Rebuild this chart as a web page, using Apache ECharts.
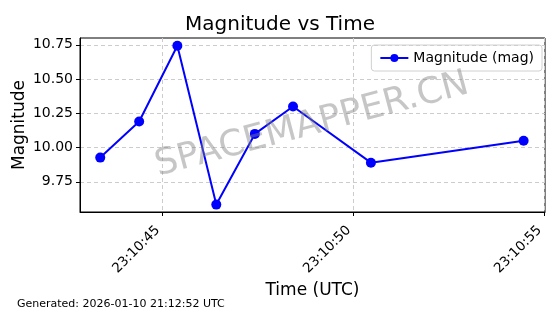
<!DOCTYPE html>
<html><head><meta charset="utf-8">
<script src="https://cdn.jsdelivr.net/npm/echarts@6/dist/echarts.min.js"></script>
<style>html,body{margin:0;padding:0;background:#fff}#c{width:560px;height:314px}</style>
</head><body><div id="c"></div>
<script>
// seconds after 23:10:00 UTC
var timeSec = [43.38, 44.40, 45.40, 46.42, 47.43, 48.43, 50.47, 54.47];
var magnitude = [9.927, 10.19, 10.743, 9.584, 10.10, 10.30, 9.89, 10.05];
var xTicks = [45, 50, 55];
var yTicks = [9.75, 10.00, 10.25, 10.50, 10.75];

var F = 'DejaVu Sans';
function fmtTime(v){ return '23:10:' + String(Math.round(v)).padStart(2,'0'); }
var chart = echarts.init(document.getElementById('c'));
chart.setOption({
  animation: false,
  textStyle: {fontFamily: F},
  title: {text: 'Magnitude vs Time', left: 'center', top: 10,
    textStyle: {fontFamily: F, fontSize: 20, fontWeight: 'normal', color: '#000'}},
  grid: {left: 80, right: 15, top: 38, bottom: 102, show: true, borderColor: '#000', borderWidth: 1,
    containLabel: false, outerBoundsMode: 'none'},
  legend: {right: 18, top: 45, padding: [6, 8], borderColor: '#d0d0d0', borderWidth: 1, borderRadius: 3,
    itemWidth: 28, itemHeight: 10, itemGap: 8,
    textStyle: {fontFamily: F, fontSize: 14, color: '#000'}, data: ['Magnitude (mag)']},
  xAxis: {type: 'value', min: 42.85, max: 55.03,
    name: 'Time (UTC)', nameLocation: 'middle', nameGap: 70, nameMoveOverlap: false,
    nameTextStyle: {fontFamily: F, fontSize: 17, color: '#000'},
    axisLine: {lineStyle: {color: '#000'}},
    axisTick: {show: true, length: 4, customValues: xTicks, lineStyle: {color: '#000'}},
    axisLabel: {customValues: xTicks, rotate: 45, formatter: fmtTime, fontFamily: F, fontSize: 13.5, color: '#000',
      margin: 12, padding: [0, 6, 0, 0]},
    splitLine: {show: true, lineStyle: {color: '#cccccc', type: [4, 3]}}},
  yAxis: {type: 'value', min: 9.53, max: 10.80,
    name: 'Magnitude', nameLocation: 'middle', nameGap: 52, nameMoveOverlap: false,
    nameTextStyle: {fontFamily: F, fontSize: 17, color: '#000'},
    axisLine: {show: true, lineStyle: {color: '#000'}},
    axisTick: {show: true, length: 4, customValues: yTicks, lineStyle: {color: '#000'}},
    axisLabel: {customValues: yTicks, formatter: function(v){return v.toFixed(2);}, fontFamily: F, fontSize: 14, color: '#000', margin: 7},
    splitLine: {show: true, lineStyle: {color: '#cccccc', type: [4, 3]}}},
  graphic: [
    {type: 'text', left: 17, top: 299, style: {text: 'Generated: 2026-01-10 21:12:52 UTC', fontFamily: F, fontSize: 11, fill: '#000'}},
    {type: 'text', x: 312, y: 125, rotation: 0.26, z: 100,
      style: {text: 'SPACEMAPPER.CN', fontFamily: F, fontSize: 36, fill: 'rgba(128,128,128,0.45)', align: 'center', verticalAlign: 'middle'}}
  ],
  series: [{name: 'Magnitude (mag)', type: 'line',
    data: timeSec.map(function(t,i){return [t, magnitude[i]];}),
    color: '#0000ff', symbol: 'circle', symbolSize: 10,
    lineStyle: {width: 2, color: '#0000ff'}, itemStyle: {color: '#0000ff'}}]
});
</script></body></html>
